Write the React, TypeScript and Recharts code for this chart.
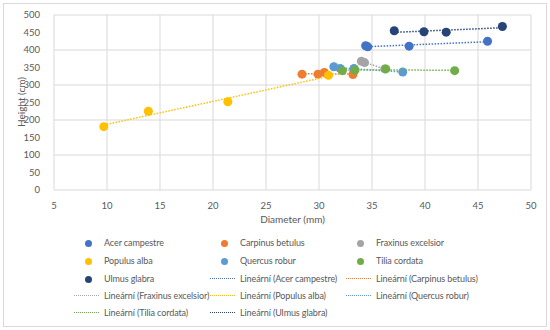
import { CartesianGrid, Scatter, ScatterChart, XAxis, YAxis, ZAxis } from "recharts";

// diameter (mm) / height (cm) per species
const ACER_X = [34.4, 34.6, 38.5, 45.9];
const ACER_Y = [412, 409, 411, 425];
const CARPINUS_X = [28.4, 29.9, 30.5, 33.2];
const CARPINUS_Y = [331, 331, 336, 330];
const FRAXINUS_X = [34.0, 34.3, 36.2];
const FRAXINUS_Y = [368, 364, 346];
const POPULUS_X = [9.7, 13.9, 21.4, 30.9];
const POPULUS_Y = [181, 225, 252, 328];
const QUERCUS_X = [31.4, 32.0, 33.3, 37.9];
const QUERCUS_Y = [352, 347, 347, 337];
const TILIA_X = [32.2, 33.4, 36.3, 42.8];
const TILIA_Y = [341, 343, 346, 341];
const ULMUS_X = [37.1, 39.9, 42.0, 47.3];
const ULMUS_Y = [455, 452, 451, 467];

const X_TICKS = [5, 10, 15, 20, 25, 30, 35, 40, 45, 50];
const Y_TICKS = [0, 50, 100, 150, 200, 250, 300, 350, 400, 450, 500];

const zip = (xs: number[], ys: number[]) => xs.map((x, i) => ({ x, y: ys[i] }));

const SERIES = [
	{ name: "Acer campestre", color: "#4472C4", data: zip(ACER_X, ACER_Y) },
	{ name: "Carpinus betulus", color: "#ED7D31", data: zip(CARPINUS_X, CARPINUS_Y) },
	{ name: "Fraxinus excelsior", color: "#A5A5A5", data: zip(FRAXINUS_X, FRAXINUS_Y) },
	{ name: "Populus alba", color: "#FFC000", data: zip(POPULUS_X, POPULUS_Y) },
	{ name: "Quercus robur", color: "#5B9BD5", data: zip(QUERCUS_X, QUERCUS_Y) },
	{ name: "Tilia cordata", color: "#70AD47", data: zip(TILIA_X, TILIA_Y) },
	{ name: "Ulmus glabra", color: "#264478", data: zip(ULMUS_X, ULMUS_Y) },
];

const FONT = "Lato, Roboto, sans-serif";
const TEXT = "#595959";

const LEGEND_ITEMS = [
	...SERIES.map((s) => ({ label: s.name, color: s.color, kind: "dot" })),
	...SERIES.map((s) => ({ label: `Lineární (${s.name})`, color: s.color, kind: "line" })),
];
const LEGEND_COLS = [104, 240, 376];
const LEGEND_ROWS = [243, 261, 279, 296, 313];

export default function App() {
	return (
		<div style={{ position: "absolute", left: 0, top: 0, width: 550, height: 330, background: "#fff", fontFamily: FONT }}>
			<div
				style={{
					position: "absolute",
					left: 3,
					top: 3,
					width: 542,
					height: 322,
					border: "1px solid #d9d9d9",
				}}
			/>
			<div style={{ position: "absolute", left: 0, top: 0 }}>
				<ScatterChart width={550} height={230} margin={{ top: 15, right: 19, bottom: 0, left: 0 }}>
					<CartesianGrid stroke="#d9d9d9" strokeWidth={1} />
					<XAxis
						type="number"
						dataKey="x"
						domain={[5, 50]}
						ticks={X_TICKS}
						axisLine={false}
						tickLine={false}
						height={40}
						tickMargin={6}
						tick={{ fill: TEXT, fontSize: 9.5, fontFamily: FONT }}
						label={{ value: "Diameter (mm)", position: "insideBottom", offset: 7, fill: TEXT, fontSize: 10, fontFamily: FONT }}
					/>
					<YAxis
						type="number"
						dataKey="y"
						domain={[0, 500]}
						ticks={Y_TICKS}
						axisLine={false}
						tickLine={false}
						width={54}
						tickMargin={8}
						tick={{ fill: TEXT, fontSize: 9.5, fontFamily: FONT }}
					/>
					<ZAxis range={[32, 32]} />
					{SERIES.map((s) => (
						<Scatter
							key={s.name}
							name={s.name}
							data={s.data}
							fill={s.color}
							line={{ stroke: s.color, strokeWidth: 1.5, strokeDasharray: "1.5 1.5" }}
							lineType="fitting"
							isAnimationActive={false}
						/>
					))}
				</ScatterChart>
			</div>
			<div
				style={{
					position: "absolute",
					left: 21,
					top: 102,
					transform: "translate(-50%, -50%) rotate(-90deg)",
					fontSize: 10,
					lineHeight: "12px",
					color: TEXT,
					whiteSpace: "nowrap",
				}}
			>
				Height (cm)
			</div>
			{LEGEND_ITEMS.map((item, i) => {
				const left = LEGEND_COLS[i % 3];
				const top = LEGEND_ROWS[Math.floor(i / 3)];
				return (
					<div key={item.label}>
						{item.kind === "dot" ? (
							<div
								style={{
									position: "absolute",
									left: left - 19,
									top: top - 3.5,
									width: 7,
									height: 7,
									borderRadius: "50%",
									background: item.color,
								}}
							/>
						) : (
							<div
								style={{
									position: "absolute",
									left: left - 30,
									top: top - 1,
									width: 25,
									height: 0,
									borderTop: `1.5px dotted ${item.color}`,
								}}
							/>
						)}
						<div
							style={{
								position: "absolute",
								left,
								top: top - 7,
								fontSize: 9,
								letterSpacing: -0.1,
								lineHeight: "14px",
								color: TEXT,
								whiteSpace: "nowrap",
							}}
						>
							{item.label}
						</div>
					</div>
				);
			})}
		</div>
	);
}
